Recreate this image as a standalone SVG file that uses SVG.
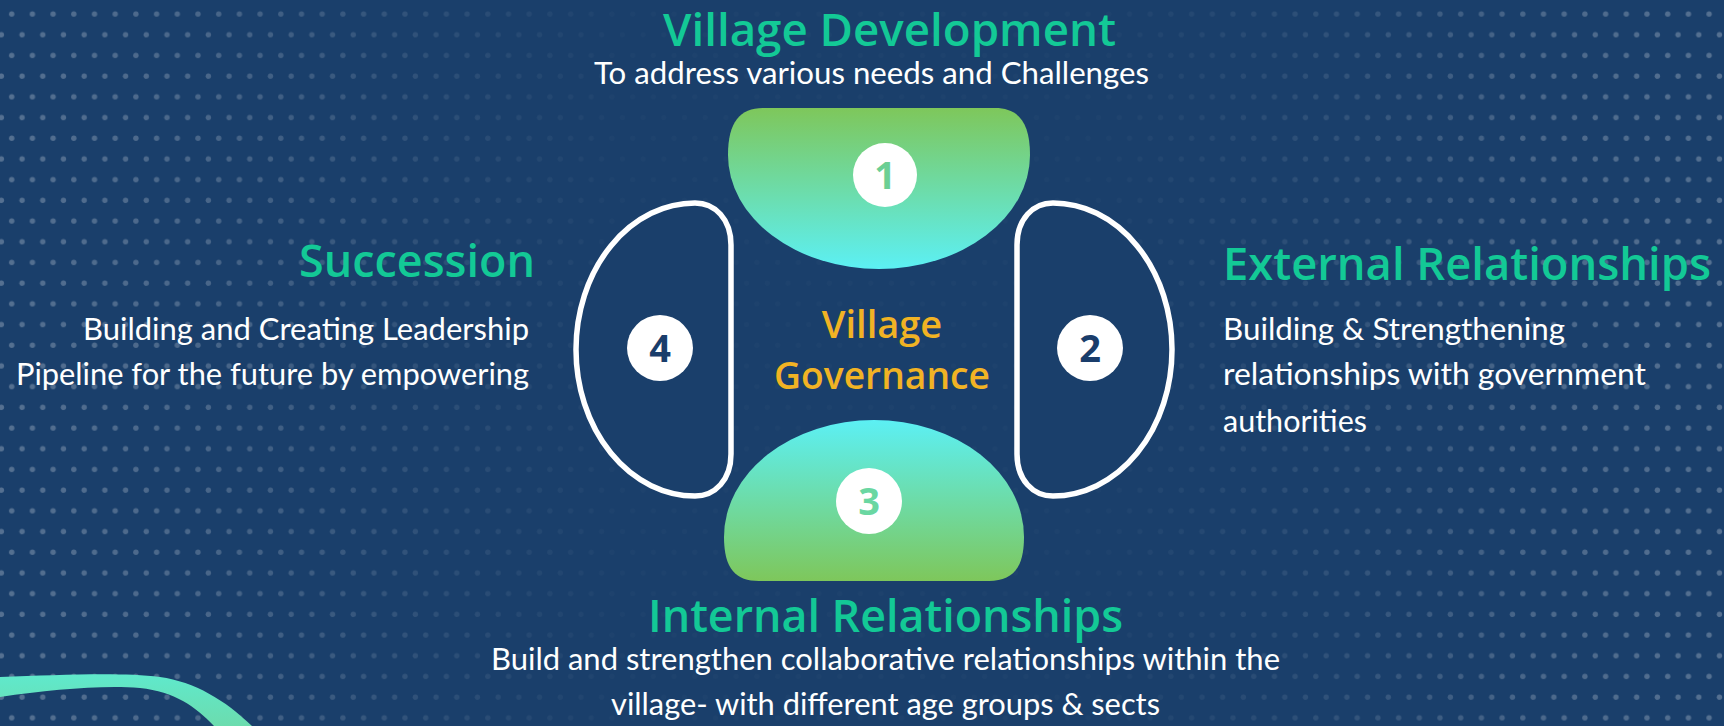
<svg xmlns="http://www.w3.org/2000/svg" width="1724" height="726" viewBox="0 0 1724 726">
<style>
.head{font-family:"Open Sans","Noto Sans",sans-serif;font-weight:600;font-size:45px;fill:#13c996}
.body{font-family:Lato,"Open Sans",sans-serif;font-size:31px;fill:#ffffff}
.core{font-family:"Open Sans","Noto Sans",sans-serif;font-weight:600;font-size:38px;fill:#f1b324}
.num{font-family:"Open Sans","Noto Sans",sans-serif;font-weight:700;font-size:38px;text-anchor:middle}
.badge{fill:#ffffff}
.outline{fill:#1a3f6b;stroke:#ffffff;stroke-width:5.5}
</style>
<defs>
<pattern id="dots" patternUnits="userSpaceOnUse" x="0" y="0" width="20.7" height="41.4">
<circle cx="11.7" cy="14" r="2.7" fill="#ffffff" fill-opacity="0.26"/>
<circle cx="1.35" cy="34.7" r="2.7" fill="#ffffff" fill-opacity="0.26"/>
<circle cx="22.05" cy="34.7" r="2.7" fill="#ffffff" fill-opacity="0.26"/>
</pattern>
<linearGradient id="fadeH" x1="0" y1="0" x2="1" y2="0">
<stop offset="0" stop-color="#fff" stop-opacity="1"/>
<stop offset="0.12" stop-color="#fff" stop-opacity="0.8"/>
<stop offset="0.25" stop-color="#fff" stop-opacity="0.35"/>
<stop offset="0.36" stop-color="#fff" stop-opacity="0.07"/>
<stop offset="0.64" stop-color="#fff" stop-opacity="0.07"/>
<stop offset="0.78" stop-color="#fff" stop-opacity="0.4"/>
<stop offset="0.9" stop-color="#fff" stop-opacity="0.85"/>
<stop offset="1" stop-color="#fff" stop-opacity="1"/>
</linearGradient>
<mask id="dotMask" maskUnits="userSpaceOnUse" x="0" y="0" width="1724" height="726">
<rect x="0" y="0" width="1724" height="726" fill="url(#fadeH)"/>
</mask>
<linearGradient id="gDown" x1="0" y1="0" x2="0" y2="1">
<stop offset="0" stop-color="#7ec75b"/>
<stop offset="1" stop-color="#5cf0f4"/>
</linearGradient>
<linearGradient id="gUp" x1="0" y1="0" x2="0" y2="1">
<stop offset="0" stop-color="#5cf0f4"/>
<stop offset="1" stop-color="#7ec75b"/>
</linearGradient>
<linearGradient id="gSwoosh" x1="0" y1="0" x2="0" y2="1">
<stop offset="0" stop-color="#5fe9cc"/>
<stop offset="1" stop-color="#6cdcae"/>
</linearGradient>
</defs>

<g id="background">
<rect x="0" y="0" width="1724" height="726" fill="#1a3f6b"/>
<rect x="0" y="0" width="1724" height="726" fill="url(#dots)" mask="url(#dotMask)"/>
<path d="M 0 677 C 60 675 120 672 160 677 C 195 682 225 700 252 726 L 214 726 C 195 706 175 692 140 688 C 100 685 50 690 0 697 Z" fill="url(#gSwoosh)"/>
</g>

<g id="connectors"></g>

<g id="node-1">
<path d="M 763 108 L 995 108 C 1018 108 1030 122 1030 155 A 151 114 0 0 1 879 269 A 151 114 0 0 1 728 155 C 728 122 740 108 763 108 Z" fill="url(#gDown)"/>
<circle class="badge" cx="885" cy="175" r="32"/>
<text class="num" x="885" y="189" fill="#6ccf94">1</text>
<text class="head" x="889.5" y="46" text-anchor="middle" font-size="43" textLength="453" lengthAdjust="spacingAndGlyphs">Village Development</text>
<text class="body" x="871.5" y="84" text-anchor="middle" textLength="555" lengthAdjust="spacingAndGlyphs">To address various needs and  Challenges</text>
</g>

<g id="node-2">
<path class="outline" d="M 1017 245 L 1017 454 C 1017 480 1033 496 1053 496 A 119 146.5 0 0 0 1172 349.5 A 119 146.5 0 0 0 1053 203 C 1033 203 1017 219 1017 245 Z"/>
<circle class="badge" cx="1090" cy="348" r="33"/>
<text class="num" x="1090" y="362" fill="#1a3d6b">2</text>
<text class="head" x="1223" y="280" textLength="488" lengthAdjust="spacingAndGlyphs">External Relationships</text>
<text class="body" x="1223" y="340" textLength="342" lengthAdjust="spacingAndGlyphs">Building &amp; Strengthening</text>
<text class="body" x="1223" y="385" textLength="423" lengthAdjust="spacingAndGlyphs">relationships  with government</text>
<text class="body" x="1223" y="432" textLength="144" lengthAdjust="spacingAndGlyphs">authorities</text>
</g>

<g id="node-3">
<path d="M 759 581 L 989 581 C 1012 581 1024 569 1024 537 A 150 117 0 0 0 874 420 A 150 117 0 0 0 724 537 C 724 569 736 581 759 581 Z" fill="url(#gUp)"/>
<circle class="badge" cx="869" cy="501" r="33"/>
<text class="num" x="869" y="515" fill="#6ad7a2">3</text>
<text class="head" x="885.5" y="632" text-anchor="middle" textLength="475" lengthAdjust="spacingAndGlyphs">Internal Relationships</text>
<text class="body" x="885.5" y="670" text-anchor="middle" textLength="789" lengthAdjust="spacingAndGlyphs">Build and strengthen collaborative relationships within the</text>
<text class="body" x="885.5" y="715" text-anchor="middle" textLength="549" lengthAdjust="spacingAndGlyphs">village- with different age groups &amp; sects</text>
</g>

<g id="node-4">
<path class="outline" d="M 731 245 L 731 454 C 731 480 715 496 695 496 A 119 146.5 0 0 1 576 349.5 A 119 146.5 0 0 1 695 203 C 715 203 731 219 731 245 Z"/>
<circle class="badge" cx="660" cy="348" r="33"/>
<text class="num" x="660" y="362" fill="#1a3d6b">4</text>
<text class="head" x="535" y="277" text-anchor="end" textLength="236" lengthAdjust="spacingAndGlyphs">Succession</text>
<text class="body" x="529" y="340" text-anchor="end" textLength="446" lengthAdjust="spacingAndGlyphs">Building and Creating Leadership</text>
<text class="body" x="529" y="385" text-anchor="end" textLength="513" lengthAdjust="spacingAndGlyphs">Pipeline for the future by empowering</text>
</g>

<g id="center">
<text class="core" x="882" y="338" text-anchor="middle">Village</text>
<text class="core" x="882" y="389" text-anchor="middle" textLength="216" lengthAdjust="spacingAndGlyphs">Governance</text>
</g>
</svg>
